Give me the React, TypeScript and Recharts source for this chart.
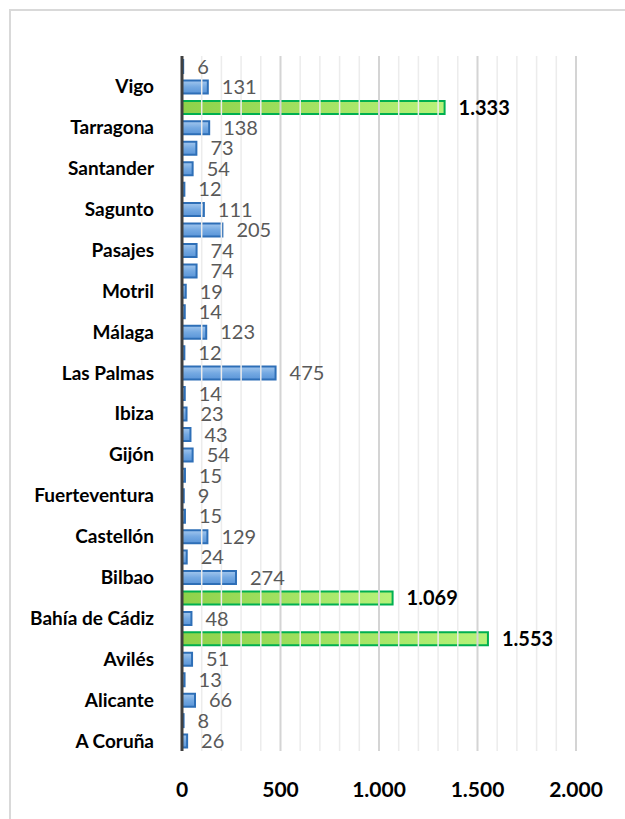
import { BarChart, Bar, XAxis, YAxis, Cell, LabelList, ReferenceLine } from 'recharts'

// bottom to top
const ports = [
  'A Coruña', 'Alcudia', 'Alicante', 'Almería', 'Avilés', 'Bahía de Algeciras', 'Bahía de Cádiz',
  'Barcelona', 'Bilbao', 'Cartagena', 'Castellón', 'Ceuta', 'Fuerteventura', 'Gandía', 'Gijón',
  'Huelva', 'Ibiza', 'La Palma', 'Las Palmas', 'Mahón', 'Málaga', 'Melilla', 'Motril', 'Palma',
  'Pasajes', 'S.C. Tenerife', 'Sagunto', 'San Sebastián de La Gomera', 'Santander', 'Sevilla',
  'Tarragona', 'Valencia', 'Vigo', 'Vilagarcía',
]
const values = [
  26, 8, 66, 13, 51, 1553, 48, 1069, 274, 24, 129, 15, 9, 15, 54, 43, 23, 14, 475, 12, 123, 14, 19,
  74, 74, 205, 111, 12, 54, 73, 138, 1333, 131, 6,
]
const highlighted = ['Bahía de Algeciras', 'Barcelona', 'Valencia']
const xTicks = [0, 500, 1000, 1500, 2000]
const minorTicks = [100, 200, 300, 400, 600, 700, 800, 900, 1100, 1200, 1300, 1400, 1600, 1700, 1800, 1900]

const data = ports.map((name, i) => ({ name, value: values[i], hi: highlighted.includes(name) }))

const fmt = (v: number) => String(v).replace(/\B(?=(\d{3})+(?!\d))/g, '.')

const renderLabel = (props: any) => {
  const { x, y, width, height, value, index } = props
  const hi = data[index]?.hi
  return (
    <text
      x={x + width + 14}
      y={y + height / 2}
      dy="0.36em"
      fontFamily="Lato"
      fontSize={20}
      fontWeight={hi ? 700 : 400}
      fill={hi ? '#000' : '#595959'}
    >
      {fmt(value)}
    </text>
  )
}

export default function App() {
  return (
    <div style={{ position: 'absolute', left: 0, top: 0, width: 625, height: 819, overflow: 'hidden', background: '#fff' }}>
      <div
        style={{
          position: 'absolute', left: 9, top: 9, width: 640, height: 840,
          border: '2px solid #d9d9d9', boxSizing: 'border-box',
        }}
      />
      <div style={{ position: 'absolute', left: 0, top: 0 }}>
        <BarChart
          layout="vertical"
          width={625}
          height={819}
          data={data}
          margin={{ top: 56, right: 49, left: 0, bottom: 38 }}
          barCategoryGap={4}
        >
          <defs>
            <linearGradient id="blueFill" x1="0" y1="0" x2="0" y2="1">
              <stop offset="0%" stopColor="#a3c7ee" />
              <stop offset="50%" stopColor="#74a9e2" />
              <stop offset="100%" stopColor="#5a95d8" />
            </linearGradient>
            <linearGradient id="greenFill" x1="0" y1="0" x2="1" y2="0">
              <stop offset="0%" stopColor="#8ed24a" />
              <stop offset="100%" stopColor="#b6f27a" />
            </linearGradient>
          </defs>
          {minorTicks.map(t => (
            <ReferenceLine key={t} x={t} stroke="#ececec" strokeWidth={1.5} />
          ))}
          {xTicks.slice(1).map(t => (
            <ReferenceLine key={t} x={t} stroke="#d4d4d4" strokeWidth={2} />
          ))}
          <XAxis
            type="number"
            domain={[0, 2000]}
            ticks={xTicks}
            tickFormatter={fmt}
            axisLine={false}
            tickLine={false}
            tickMargin={25}
            tick={{ fontFamily: 'Lato', fontSize: 21, fontWeight: 700, fill: '#000' }}
            height={30}
          />
          <YAxis
            type="category"
            dataKey="name"
            reversed
            width={182}
            interval={1}
            axisLine={{ stroke: '#404040', strokeWidth: 3 }}
            tickLine={false}
            tickMargin={22}
            tick={{ fontFamily: 'Lato', fontSize: 19, fontWeight: 700, fill: '#000' }}
          />
          <Bar dataKey="value" barSize={13} isAnimationActive={false}>
            {data.map((d, i) => (
              <Cell
                key={i}
                fill={d.hi ? 'url(#greenFill)' : 'url(#blueFill)'}
                stroke={d.hi ? '#00b050' : '#2e6fb7'}
                strokeWidth={2}
              />
            ))}
            <LabelList dataKey="value" content={renderLabel} />
          </Bar>
        </BarChart>
      </div>
    </div>
  )
}
